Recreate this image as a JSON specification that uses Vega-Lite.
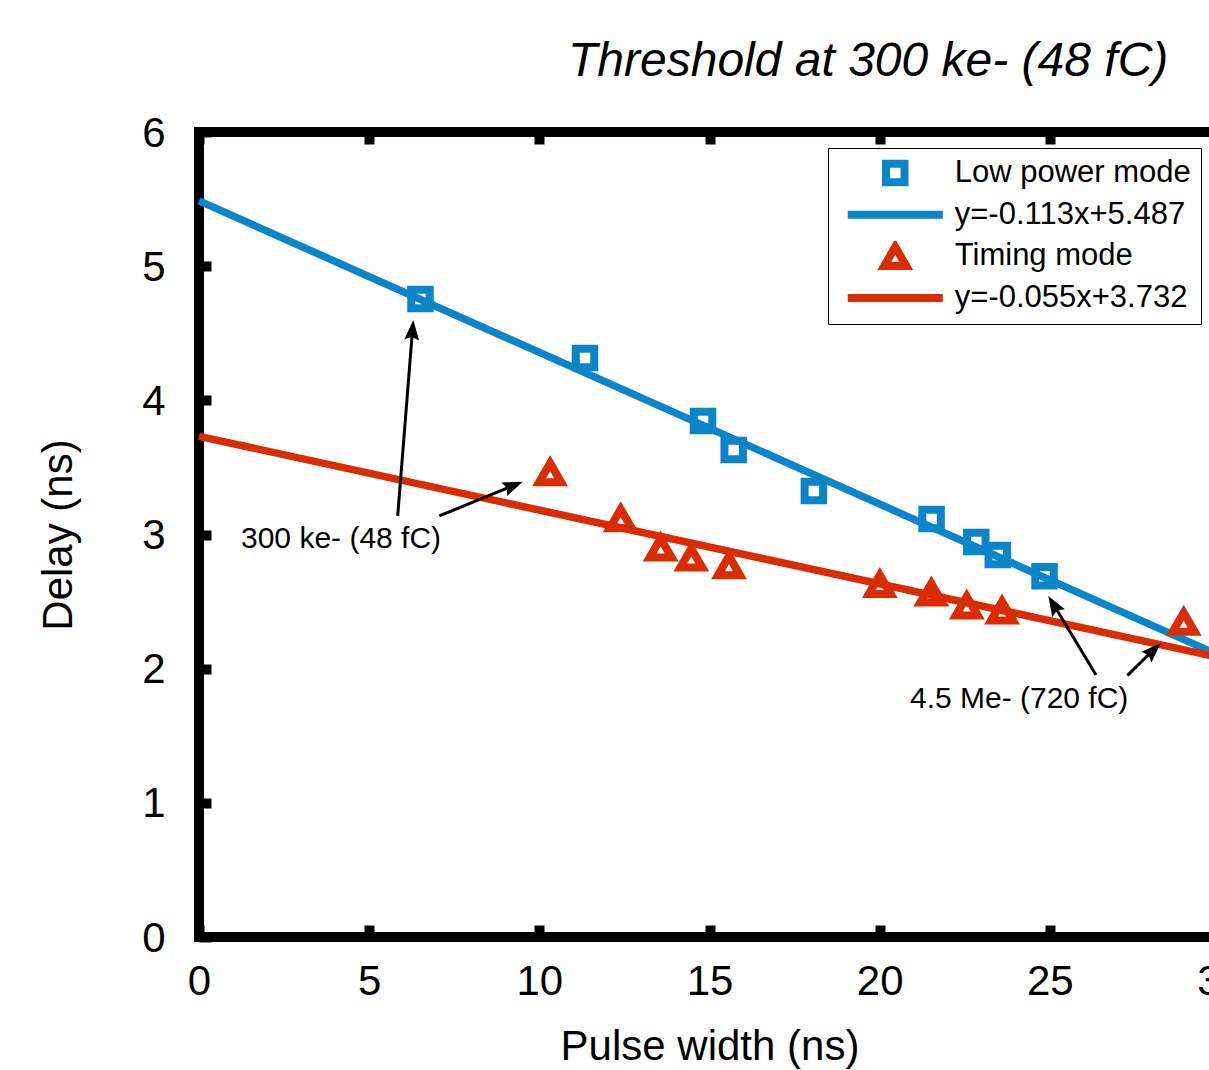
{
  "$schema": "https://vega.github.io/schema/vega-lite/v6.json",
  "width": 1021,
  "height": 805,
  "autosize": {"type": "none"},
  "padding": {"left": 199, "top": 132, "right": -11, "bottom": 133},
  "background": "white",
  "config": {
    "font": "Liberation Sans",
    "view": {"stroke": "black", "strokeWidth": 10},
    "axis": {"grid": false, "domain": false, "ticks": true, "tickColor": "black", "tickWidth": 10, "tickSize": -12, "labelColor": "black", "titleColor": "black", "labelFont": "Liberation Sans", "titleFont": "Liberation Sans", "labelFontSize": 42, "titleFontSize": 42, "titleFontWeight": "normal", "labelFlush": false, "labelOverlap": false}
  },
  "title": {"text": "Threshold at 300 ke- (48 fC)", "fontSize": 48, "fontStyle": "italic", "fontWeight": "normal", "font": "Liberation Sans", "color": "black", "anchor": "start", "frame": "group", "dx": 369, "dy": 65, "baseline": "alphabetic", "offset": 53},
  "datasets": {
    "points": [
      {"series": "Low power mode", "x": 6.508, "y": 4.755},
      {"series": "Low power mode", "x": 11.342, "y": 4.316},
      {"series": "Low power mode", "x": 14.809, "y": 3.846},
      {"series": "Low power mode", "x": 15.711, "y": 3.63},
      {"series": "Low power mode", "x": 18.066, "y": 3.324},
      {"series": "Low power mode", "x": 21.525, "y": 3.116},
      {"series": "Low power mode", "x": 22.838, "y": 2.944},
      {"series": "Low power mode", "x": 23.47, "y": 2.847},
      {"series": "Low power mode", "x": 24.844, "y": 2.688},
      {"series": "Timing mode", "x": 10.317, "y": 3.461},
      {"series": "Timing mode", "x": 12.391, "y": 3.118},
      {"series": "Timing mode", "x": 13.563, "y": 2.899},
      {"series": "Timing mode", "x": 14.465, "y": 2.825},
      {"series": "Timing mode", "x": 15.573, "y": 2.768},
      {"series": "Timing mode", "x": 20.004, "y": 2.627},
      {"series": "Timing mode", "x": 21.517, "y": 2.564},
      {"series": "Timing mode", "x": 22.56, "y": 2.467},
      {"series": "Timing mode", "x": 23.595, "y": 2.43},
      {"series": "Timing mode", "x": 28.934, "y": 2.346}
    ],
    "fits": [
      {"series": "y=-0.113x+5.487", "x": 0, "y": 5.487},
      {"series": "y=-0.113x+5.487", "x": 30, "y": 2.097},
      {"series": "y=-0.055x+3.732", "x": 0, "y": 3.732},
      {"series": "y=-0.055x+3.732", "x": 30, "y": 2.082}
    ],
    "arrows": [
      {"id": 1, "x1": 5.838, "y1": 3.138, "x2": 6.262, "y2": 4.487, "xh": 6.297, "yh": 4.599},
      {"id": 2, "x1": 7.061, "y1": 3.138, "x2": 9.103, "y2": 3.351, "xh": 9.512, "yh": 3.394},
      {"id": 3, "x1": 26.357, "y1": 1.953, "x2": 25.185, "y2": 2.447, "xh": 24.955, "yh": 2.542},
      {"id": 4, "x1": 27.277, "y1": 1.948, "x2": 27.941, "y2": 2.115, "xh": 28.258, "yh": 2.19}
    ],
    "notes": [
      {"label": "300 ke- (48 fC)", "x": 1.234, "y": 2.899},
      {"label": "4.5 Me- (720 fC)", "x": 20.89, "y": 1.707}
    ]
  },
  "layer": [
    {
      "data": {"name": "fits"},
      "transform": [{"filter": "datum.series == 'y=-0.113x+5.487'"}],
      "mark": {"type": "line", "color": "#0A85C9", "strokeWidth": 7.5},
      "encoding": {
        "x": {"field": "x", "type": "quantitative", "scale": {"domain": [0, 30], "nice": false, "zero": false},
              "axis": {"orient": "bottom", "values": [0, 5, 10, 15, 20, 25, 30], "format": "d", "labelPadding": 36, "title": "Pulse width (ns)", "titleY": 122, "titleBaseline": "alphabetic"}},
        "y": {"field": "y", "type": "quantitative", "scale": {"domain": [0, 6], "nice": false, "zero": false},
              "axis": {"orient": "left", "values": [0, 1, 2, 3, 4, 5, 6], "format": "d", "labelPadding": 46, "labelOffset": 1, "title": "Delay (ns)", "titleX": -128, "titleY": 402.5, "titleBaseline": "alphabetic"}}
      }
    },
    {
      "data": {"name": "fits"},
      "transform": [{"filter": "datum.series == 'y=-0.055x+3.732'"}],
      "mark": {"type": "line", "color": "#DA2C00", "strokeWidth": 7.5},
      "encoding": {
        "x": {"field": "x", "type": "quantitative", "axis": {"orient": "top", "values": [0, 5, 10, 15, 20, 25, 30], "labels": false, "title": null}},
        "y": {"field": "y", "type": "quantitative"}
      }
    },
    {
      "data": {"name": "points"},
      "mark": {"type": "point", "filled": false, "strokeWidth": 8, "size": 342, "opacity": 1},
      "encoding": {
        "x": {"field": "x", "type": "quantitative", "axis": null},
        "y": {"field": "y", "type": "quantitative"},
        "color": {"field": "series", "type": "nominal",
          "scale": {"domain": ["Low power mode", "y=-0.113x+5.487", "Timing mode", "y=-0.055x+3.732"], "range": ["#0A85C9", "#0A85C9", "#DA2C00", "#DA2C00"]},
          "legend": {"orient": "none", "legendX": 629, "legendY": 16, "title": null, "padding": 9.5, "fillColor": "white", "strokeColor": "black", "labelFontSize": 31, "labelFont": "Liberation Sans", "labelColor": "black", "labelLimit": 500, "symbolSize": 342, "symbolStrokeWidth": 8, "symbolOffset": 42.25, "labelOffset": 44, "rowPadding": 9.7, "clipHeight": 31, "symbolOpacity": 1,
            "encode": {"legend": {"update": {"strokeWidth": {"value": 2.5}}}}}},
        "shape": {"field": "series", "type": "nominal",
          "scale": {"domain": ["Low power mode", "y=-0.113x+5.487", "Timing mode", "y=-0.055x+3.732"], "range": ["square", "M-5.14,0L5.14,0", "M0,-1.03L1.19,1.03L-1.19,1.03Z", "M-5.14,0L5.14,0"]}}
      }
    },
    {
      "data": {"name": "arrows"},
      "mark": {"type": "rule", "color": "black", "strokeWidth": 3},
      "encoding": {
        "x": {"field": "x1", "type": "quantitative", "axis": null},
        "y": {"field": "y1", "type": "quantitative"},
        "x2": {"field": "x2"},
        "y2": {"field": "y2"}
      }
    },
    {
      "data": {"name": "arrows"},
      "transform": [{"filter": "datum.id == 1"}],
      "mark": {"type": "point", "shape": "M0,0L-0.37,1L0,0.85L0.37,1Z", "filled": true, "color": "black", "size": 1600, "angle": 4.5, "opacity": 1, "strokeWidth": 0},
      "encoding": {"x": {"field": "xh", "type": "quantitative", "axis": null}, "y": {"field": "yh", "type": "quantitative"}}
    },
    {
      "data": {"name": "arrows"},
      "transform": [{"filter": "datum.id == 2"}],
      "mark": {"type": "point", "shape": "M0,0L-0.37,1L0,0.85L0.37,1Z", "filled": true, "color": "black", "size": 1600, "angle": 67.6, "opacity": 1, "strokeWidth": 0},
      "encoding": {"x": {"field": "xh", "type": "quantitative", "axis": null}, "y": {"field": "yh", "type": "quantitative"}}
    },
    {
      "data": {"name": "arrows"},
      "transform": [{"filter": "datum.id == 3"}],
      "mark": {"type": "point", "shape": "M0,0L-0.37,1L0,0.85L0.37,1Z", "filled": true, "color": "black", "size": 1600, "angle": -31.1, "opacity": 1, "strokeWidth": 0},
      "encoding": {"x": {"field": "xh", "type": "quantitative", "axis": null}, "y": {"field": "yh", "type": "quantitative"}}
    },
    {
      "data": {"name": "arrows"},
      "transform": [{"filter": "datum.id == 4"}],
      "mark": {"type": "point", "shape": "M0,0L-0.37,1L0,0.85L0.37,1Z", "filled": true, "color": "black", "size": 1600, "angle": 45.9, "opacity": 1, "strokeWidth": 0},
      "encoding": {"x": {"field": "xh", "type": "quantitative", "axis": null}, "y": {"field": "yh", "type": "quantitative"}}
    },
    {
      "data": {"name": "notes"},
      "mark": {"type": "text", "fontSize": 30, "font": "Liberation Sans", "align": "left", "baseline": "alphabetic", "color": "black"},
      "encoding": {
        "x": {"field": "x", "type": "quantitative", "axis": null},
        "y": {"field": "y", "type": "quantitative"},
        "text": {"field": "label"}
      }
    }
  ],
  "resolve": {"axis": {"x": "independent"}}
}
